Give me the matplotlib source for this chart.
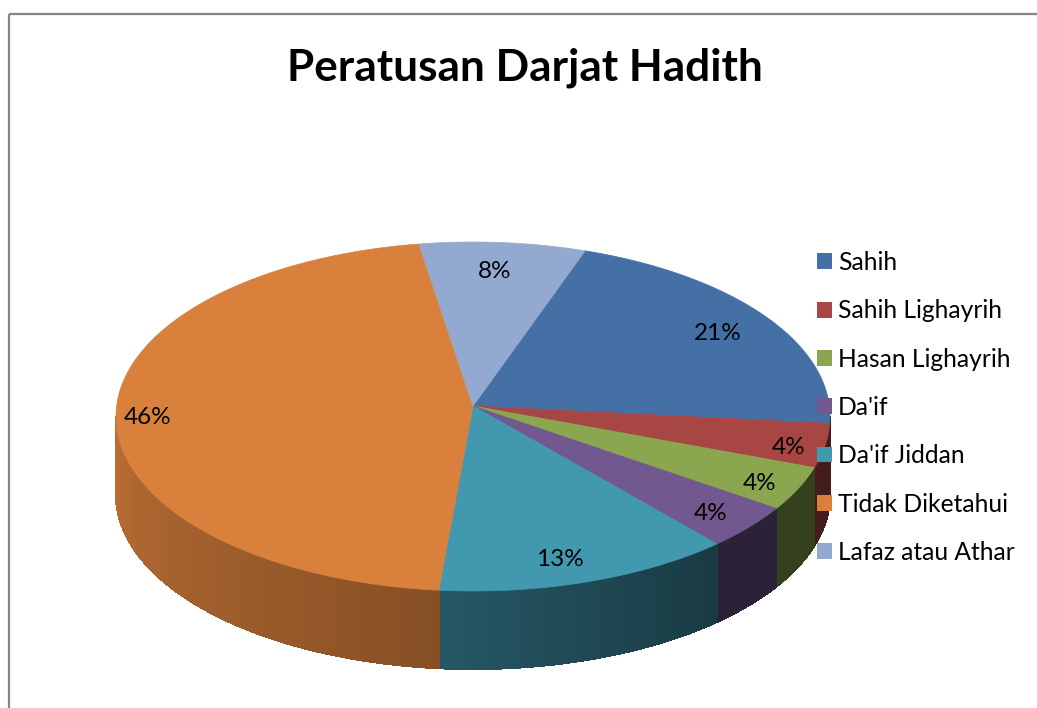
import numpy as np
import matplotlib
matplotlib.use('Agg')
import matplotlib.pyplot as plt
from matplotlib.patches import Polygon, Patch, Rectangle

title = 'Peratusan Darjat Hadith'
categories = ['Sahih', 'Sahih Lighayrih', 'Hasan Lighayrih', "Da'if", "Da'if Jiddan", 'Tidak Diketahui', 'Lafaz atau Athar']
values = [20.55, 4.1, 4.1, 4.2, 13.49, 46.06, 7.5]

colors = ['#4470A6', '#A84643', '#8AA64E', '#71588F', '#4198AF', '#D9803C', '#93A9CF']
# wall brightness at the left and right end of each slice
shade_left = [0.4, 0.4, 0.38, 0.39, 0.58, 0.86, 0.6]
shade_right = [0.4, 0.4, 0.38, 0.39, 0.38, 0.62, 0.6]
label_x = [718, 789, 760, 711, 560, 148, 495]
label_y = [333, 447, 483, 514, 560, 418, 271]

# pie geometry in picture pixels
start_angle = 71.7
cx, cy = 473, 416.5
rx, ry = 357, 174.5
apex_y = 406
depth = 78

plt.rcParams['font.family'] = ['Lato', 'DejaVu Sans']

fig = plt.figure(figsize=(10.37, 7.08), dpi=100)
ax = fig.add_axes([0, 0, 1, 1])
ax.set_xlim(0, 1037)
ax.set_ylim(708, 0)
ax.axis('off')

# chart frame, runs off the right and bottom of the picture
ax.add_patch(Rectangle((9, 14), 1100, 800, fill=False, ec='#868686', lw=1.6))

total = sum(values)
sweeps = [v / total * 360 for v in values]
ends = start_angle - np.cumsum(sweeps)
starts = ends + np.array(sweeps)

# front walls first, then the top faces over them
for c, a0, a1, sl, sr in zip(colors, starts, ends, shade_left, shade_right):
    lo, hi = max(a1, -180), min(a0, 0)
    if hi <= lo:
        continue
    edges = np.linspace(hi, lo, int(hi - lo) + 2)
    rgb = np.array(matplotlib.colors.to_rgb(c))
    # a1 side is on the left of the picture
    for i in range(len(edges) - 1):
        t0, t1 = np.radians(edges[i]), np.radians(edges[i + 1])
        f = (edges[i] - lo) / (hi - lo)
        col = rgb * (sl + (sr - sl) * f)
        xs = cx + rx * np.cos([t0, t1])
        ys = cy - ry * np.sin([t0, t1])
        quad = [(xs[0], ys[0]), (xs[1], ys[1]), (xs[1], ys[1] + depth), (xs[0], ys[0] + depth)]
        ax.add_patch(Polygon(quad, fc=col, ec=col, lw=0.8, antialiased=False, zorder=2))

for c, a0, a1 in zip(colors, starts, ends):
    t = np.radians(np.linspace(a0, a1, 200))
    pts = np.column_stack([cx + rx * np.cos(t), cy - ry * np.sin(t)])
    pts = np.vstack([[cx, apex_y], pts])
    ax.add_patch(Polygon(pts, fc=c, ec=c, lw=0.5, zorder=3))

for v, x, y in zip(values, label_x, label_y):
    ax.text(x, y, f'{round(v)}%', fontsize=17.5, color='black', ha='center', va='center', zorder=5)

ax.text(525, 68, title, fontsize=31.8, fontweight='bold', color='black', ha='center', va='center')

handles = [Patch(fc=c, ec='none') for c in colors]
leg = ax.legend(handles, categories, loc='upper left', bbox_to_anchor=(809.6 / 1037, 1 - 243.6 / 708),
                frameon=False, fontsize=17.7, handlelength=0.61, handleheight=0.61,
                handletextpad=0.25, labelspacing=1.03, borderpad=0.3, borderaxespad=0)
leg.set_zorder(6)

fig.savefig('out.png', dpi=100)
